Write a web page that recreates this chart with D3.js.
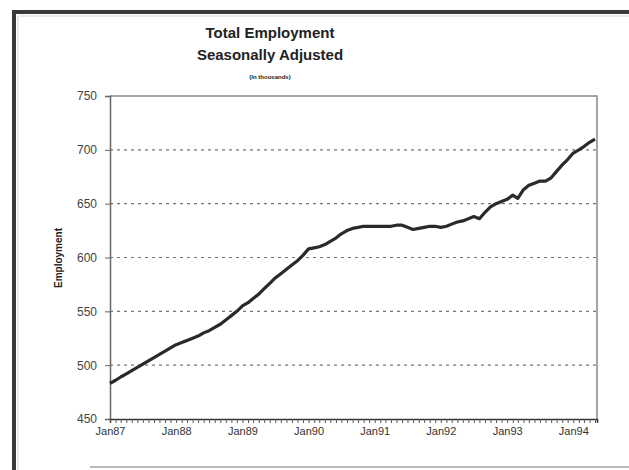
<!DOCTYPE html>
<html>
<head>
<meta charset="utf-8">
<script src="https://cdn.jsdelivr.net/npm/d3@7"></script>
<style>
  body { margin: 0; background: #fff; }
  text { font-family: "Liberation Sans", Arial, sans-serif; }
</style>
</head>
<body>
<div id="chart"></div>
<script>
// Define svg size
var svgWidth = 629;
var svgHeight = 470;

// Define margin parameter (plot box)
var margin = { top: 96, right: 32, bottom: 51, left: 110 };

var width = svgWidth - margin.left - margin.right;
var height = svgHeight - margin.top - margin.bottom;

// monthly employment, Jan87 .. May94 (thousands)
var startMonth = new Date(1987, 0, 1);
var employment = [
  483, 486, 489, 492, 495, 498, 501, 504, 507, 510, 513, 516,   // 1987
  519, 521, 523, 525, 527, 530, 532, 535, 538, 542, 546, 550,   // 1988
  555, 558, 562, 566, 571, 576, 581, 585, 589, 593, 597, 602,   // 1989
  608, 609, 610, 612, 615, 618, 622, 625, 627, 628, 629, 629,   // 1990
  629, 629, 629, 629, 630, 630, 628, 626, 627, 628, 629, 629,   // 1991
  628, 629, 631, 633, 634, 636, 638, 636, 642, 647, 650, 652,   // 1992
  654, 658, 655, 663, 667, 669, 671, 671, 674, 680, 686, 691,   // 1993
  697, 700, 703, 707, 710                                       // 1994
];
var yTicks = [450, 500, 550, 600, 650, 700, 750];
var titleLines = ["Total Employment", "Seasonally Adjusted"];
var subTitle = "(In thousands)";
var yTitle = "Employment";

var data = employment.map(function(v, i) {
  return { date: d3.timeMonth.offset(startMonth, i), value: v };
});

var svg = d3.select("#chart")
  .append("svg")
  .attr("width", svgWidth)
  .attr("height", svgHeight);

// scanned page frame
svg.append("path")
  .attr("d", "M14,470 L14,12 L629,12")
  .attr("fill", "none")
  .attr("stroke", "#3a3a3a")
  .attr("stroke-width", 4);
svg.append("path")
  .attr("d", "M18,470 L18,16 L629,16")
  .attr("fill", "none")
  .attr("stroke", "#d8d8d8")
  .attr("stroke-width", 1);
svg.append("line")
  .attr("x1", 90).attr("x2", 629)
  .attr("y1", 467).attr("y2", 467)
  .attr("stroke", "#bbb")
  .attr("stroke-width", 2);

// titles
svg.selectAll(".title")
  .data(titleLines)
  .enter()
  .append("text")
  .attr("class", "title")
  .attr("x", 270)
  .attr("y", (d, i) => 38 + i * 22)
  .attr("text-anchor", "middle")
  .attr("font-size", "15px")
  .attr("font-weight", "bold")
  .attr("fill", "#222")
  .text(d => d);

svg.append("text")
  .attr("x", 270)
  .attr("y", 79)
  .attr("text-anchor", "middle")
  .attr("font-size", "6px")
  .attr("font-weight", "bold")
  .attr("fill", "#222")
  .text(subTitle);

var chartGroup = svg.append("g")
  .attr("transform", `translate(${margin.left}, ${margin.top})`);

// scales
var xScale = d3.scaleTime()
  .domain([startMonth, new Date(1994, 4, 12)])
  .range([0, width]);

var yScale = d3.scaleLinear()
  .domain([450, 750])
  .range([height, 0]);

// dotted gridlines
chartGroup.selectAll(".grid")
  .data(yTicks.filter(d => d > 450 && d < 750))
  .enter()
  .append("line")
  .attr("class", "grid")
  .attr("x1", 0)
  .attr("x2", width)
  .attr("y1", d => yScale(d))
  .attr("y2", d => yScale(d))
  .attr("stroke", "#777")
  .attr("stroke-width", 1.2)
  .attr("stroke-dasharray", "3,4");

// plot box (top / right)
chartGroup.append("path")
  .attr("d", `M0,0 L${width},0 L${width},${height}`)
  .attr("fill", "none")
  .attr("stroke", "#888")
  .attr("stroke-width", 1.5);

// y axis
var leftAxis = d3.axisLeft(yScale)
  .tickValues(yTicks)
  .tickSize(5)
  .tickPadding(8);
var yAxis = chartGroup.append("g")
  .call(leftAxis);
yAxis.select(".domain").attr("stroke", "#666").attr("stroke-width", 1.5);
yAxis.selectAll(".tick line").attr("stroke", "#666");
yAxis.selectAll("text")
  .attr("font-size", "12px")
  .attr("fill", "#444")
  .attr("font-family", "Liberation Sans, Arial, sans-serif");

// x axis: monthly minor ticks, yearly labels
var minorAxis = d3.axisBottom(xScale)
  .ticks(d3.timeMonth.every(1))
  .tickSize(4)
  .tickFormat("");
var xMinor = chartGroup.append("g")
  .attr("transform", `translate(0, ${height})`)
  .call(minorAxis);
xMinor.select(".domain").attr("stroke", "#333").attr("stroke-width", 1.5);
xMinor.selectAll(".tick line").attr("stroke", "#555");

var bottomAxis = d3.axisBottom(xScale)
  .ticks(d3.timeYear.every(1))
  .tickSize(0)
  .tickPadding(8)
  .tickFormat(d3.timeFormat("Jan%y"));
var xAxis = chartGroup.append("g")
  .attr("transform", `translate(0, ${height})`)
  .call(bottomAxis);
xAxis.select(".domain").remove();
xAxis.selectAll("text")
  .attr("font-size", "11px")
  .attr("fill", "#333")
  .attr("font-family", "Liberation Sans, Arial, sans-serif");

// y axis title
svg.append("text")
  .attr("transform", "translate(62, 258) rotate(-90)")
  .attr("text-anchor", "middle")
  .attr("font-size", "10px")
  .attr("font-weight", "bold")
  .attr("fill", "#222")
  .text(yTitle);

// employment line
var line = d3.line()
  .x(d => xScale(d.date))
  .y(d => yScale(d.value));

chartGroup.append("path")
  .datum(data)
  .attr("d", line)
  .attr("fill", "none")
  .attr("stroke", "#2a2a2a")
  .attr("stroke-width", 3.2)
  .attr("stroke-linejoin", "round");
</script>
</body>
</html>
